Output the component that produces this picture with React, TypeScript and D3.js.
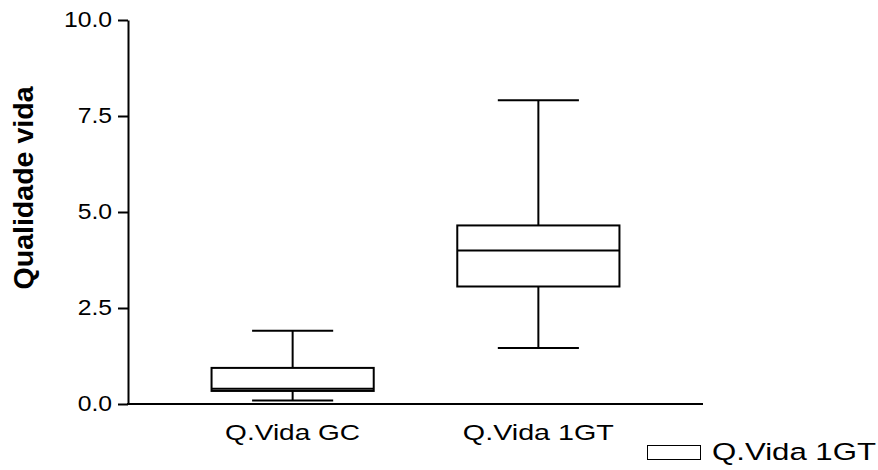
import React, { useEffect, useRef } from 'react';
import * as d3 from 'd3';

// box plot values
const categories = ['Q.Vida GC', 'Q.Vida 1GT'];
const whiskerLow = [0.09, 1.46];
const q1 = [0.34, 3.06];
const median = [0.4, 4.0];
const q3 = [0.94, 4.65];
const whiskerHigh = [1.91, 7.91];
const yTicks = [0, 2.5, 5, 7.5, 10];
const legendLabel = 'Q.Vida 1GT';
const categoryWidths = [135, 151];

const FONT = '"Liberation Sans", Arial, Helvetica, sans-serif';
// the original font is a bit wider than Arial
const STRETCH = 1.15;

const App: React.FC = () => {
  const axisRef = useRef<SVGGElement>(null);

  const width = 878;
  const height = 470;
  const left = 128;
  const right = 703;
  const top = 20;
  const bottom = 404;

  const x = d3.scaleBand<string>().domain(categories).range([left, right]).padding(0.34);
  const y = d3.scaleLinear().domain([0, 10]).range([bottom, top]);

  useEffect(() => {
    const g = d3.select(axisRef.current);
    g.selectAll('*').remove();
    g.call(
      d3
        .axisLeft(y)
        .tickValues(yTicks)
        .tickSize(10)
        .tickSizeOuter(0)
        .tickPadding(6)
        .tickFormat(d3.format('.1f'))
    );
    g.select('.domain').attr('stroke', '#000').attr('stroke-width', 2);
    g.selectAll('.tick line').attr('stroke', '#000').attr('stroke-width', 2);
    g.selectAll<SVGTextElement, unknown>('.tick text')
      .attr('fill', '#000')
      .style('font-family', FONT)
      .style('font-size', '21.5px')
      .each(function () {
        const w = this.getComputedTextLength();
        d3.select(this)
          .attr('textLength', w * STRETCH)
          .attr('lengthAdjust', 'spacingAndGlyphs');
      });
  }, []);

  const bw = x.bandwidth();

  return (
    <svg
      width={width}
      height={height}
      style={{ position: 'absolute', left: 0, top: 0, background: '#fff' }}
    >
      <g ref={axisRef} transform={`translate(${left},0)`} />
      <line x1={left - 1} x2={right} y1={bottom} y2={bottom} stroke="#000" strokeWidth={2} />

      {categories.map((c, i) => {
        const x0 = x(c)!;
        const cx = x0 + bw / 2;
        const cap = bw / 4;
        return (
          <g key={c} stroke="#000" strokeWidth={2} fill="none">
            <line x1={cx} x2={cx} y1={y(whiskerHigh[i])} y2={y(q3[i])} />
            <line x1={cx} x2={cx} y1={y(q1[i])} y2={y(whiskerLow[i])} />
            <line x1={cx - cap} x2={cx + cap} y1={y(whiskerHigh[i])} y2={y(whiskerHigh[i])} />
            <line x1={cx - cap} x2={cx + cap} y1={y(whiskerLow[i])} y2={y(whiskerLow[i])} />
            <rect x={x0} y={y(q3[i])} width={bw} height={y(q1[i]) - y(q3[i])} fill="#fff" />
            <line x1={x0} x2={x0 + bw} y1={y(median[i])} y2={y(median[i])} />
            <text
              x={cx}
              y={440}
              textAnchor="middle"
              stroke="none"
              fill="#000"
              fontFamily={FONT}
              fontSize={22.5}
              textLength={categoryWidths[i]}
              lengthAdjust="spacingAndGlyphs"
            >
              {c}
            </text>
          </g>
        );
      })}

      <text
        transform="translate(33,188) rotate(-90)"
        textAnchor="middle"
        fontFamily={FONT}
        fontWeight="bold"
        fontSize={28}
        fill="#000"
        textLength={203}
        lengthAdjust="spacingAndGlyphs"
      >
        Qualidade vida
      </text>

      <g>
        <rect x={647.5} y={445.5} width={53} height={14} fill="#fff" stroke="#000" strokeWidth={1} />
        <text
          x={712}
          y={460}
          fontFamily={FONT}
          fontSize={24.5}
          fill="#000"
          textLength={164}
          lengthAdjust="spacingAndGlyphs"
        >
          {legendLabel}
        </text>
      </g>
    </svg>
  );
};

export default App;
